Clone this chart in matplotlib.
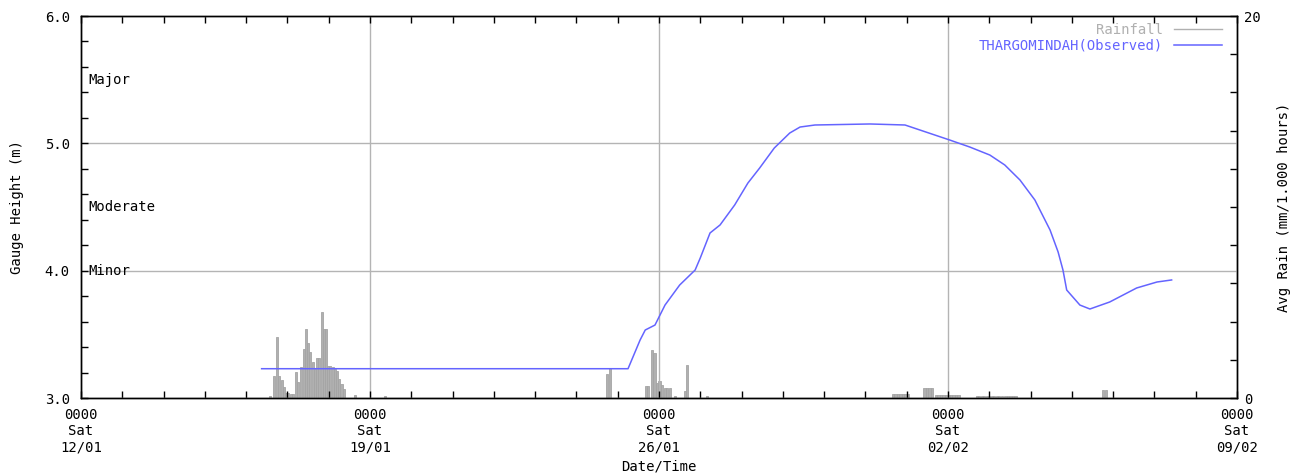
import numpy as np
import pandas as pd
import matplotlib
matplotlib.use('Agg')
import matplotlib.pyplot as plt
import matplotlib.dates as mdates
import matplotlib.transforms as mtransforms

plt.rcParams['font.family'] = 'DejaVu Sans Mono'
plt.rcParams['font.size'] = 10

start = pd.Timestamp('2019-01-12 00:00')
end = pd.Timestamp('2019-02-09 00:00')

# gauge height (m)
gauge_times = ['2019-01-16 09:00', '2019-01-25 06:00', '2019-01-25 13:00', '2019-01-25 16:00',
               '2019-01-25 21:40', '2019-01-26 03:30', '2019-01-26 12:00', '2019-01-26 21:00',
               '2019-01-27 00:00', '2019-01-27 05:40', '2019-01-27 11:30', '2019-01-27 20:00',
               '2019-01-28 03:40', '2019-01-28 10:30', '2019-01-28 19:00', '2019-01-29 04:00',
               '2019-01-29 10:00', '2019-01-29 18:40', '2019-01-31 02:40', '2019-01-31 23:00',
               '2019-02-02 01:00', '2019-02-02 12:40', '2019-02-03 00:20', '2019-02-03 09:00',
               '2019-02-03 17:50', '2019-02-04 02:30', '2019-02-04 11:20', '2019-02-04 16:00',
               '2019-02-04 18:50', '2019-02-04 21:00', '2019-02-05 04:40', '2019-02-05 10:30',
               '2019-02-05 22:00', '2019-02-06 13:40', '2019-02-07 01:30', '2019-02-07 10:00']
gauge_height = [3.23, 3.23, 3.455, 3.534,
                3.573, 3.730, 3.887, 4.005,
                4.10, 4.296, 4.359, 4.516,
                4.688, 4.806, 4.963, 5.081,
                5.128, 5.144, 5.152, 5.144,
                5.026, 4.971, 4.908, 4.830,
                4.712, 4.555, 4.319, 4.147,
                4.005, 3.848, 3.730, 3.699,
                3.754, 3.864, 3.911, 3.927]

# rainfall bars: hours after 12/01 0000, and mm
rain_hours = [110.0, 112.0, 113.9, 115.3, 116.7, 117.8, 119.2, 120.5, 121.9, 123.2,
              124.8, 126.1, 127.7, 129.6, 130.8, 132.1, 133.3, 134.7, 136.2, 137.4,
              138.5, 139.9, 141.1, 142.4, 143.8, 144.9, 146.3, 147.6, 148.8, 150.2,
              151.5, 152.7, 159.1, 176.9,
              305.8, 307.7, 328.4, 329.8, 332.1, 333.4, 334.8, 336.3, 337.7, 339.3,
              340.7, 342.2, 345.1, 351.2, 352.3, 363.7,
              472.0, 473.5, 474.9, 476.4, 477.8, 479.3, 480.7,
              490.3, 491.8, 493.2, 494.7,
              497.0, 498.5, 499.9, 501.4, 502.8, 504.3, 505.7, 507.2, 508.6, 510.1,
              520.7, 522.1, 523.6, 525.0, 526.5, 527.9, 529.4, 530.8, 532.3, 533.7, 535.2,
              537.4, 538.8, 540.3, 541.7, 543.2,
              594.3, 595.7]
rain_mm = [0.1, 1.15, 3.2, 1.15, 0.95, 0.6, 0.25, 0.25, 0.2, 0.2,
           1.35, 0.85, 1.6, 2.55, 3.6, 2.9, 2.4, 1.9, 1.5, 2.1,
           2.1, 4.5, 3.6, 3.6, 1.7, 1.7, 1.6, 1.5, 1.4, 1.0,
           0.75, 0.45, 0.15, 0.08,
           1.25, 1.55, 0.65, 0.65, 2.5, 2.35, 0.8, 0.9, 0.7, 0.5,
           0.5, 0.5, 0.1, 0.38, 1.75, 0.1,
           0.2, 0.2, 0.2, 0.2, 0.2, 0.2, 0.2,
           0.5, 0.5, 0.5, 0.5,
           0.16, 0.16, 0.16, 0.16, 0.16, 0.16, 0.16, 0.16, 0.16, 0.16,
           0.08, 0.08, 0.08, 0.08, 0.08, 0.08, 0.08, 0.08, 0.08, 0.08, 0.08,
           0.08, 0.08, 0.08, 0.08, 0.08,
           0.4, 0.4]

levels = ['Major', 'Moderate', 'Minor']
level_heights = [5.5, 4.5, 4.0]

blue = '#6464ff'
grey = '#b0b0b0'

gx = mdates.date2num(pd.to_datetime(gauge_times))
rx = mdates.date2num(start + pd.to_timedelta(rain_hours, unit='h'))

fig = plt.figure(figsize=(13.06, 4.75), dpi=100)
ax = fig.add_axes([81 / 1306, 77 / 475, 1156 / 1306, 382 / 475])
ax2 = ax.twinx()

ax2.bar(rx, rain_mm, width=1.3 / 24, color='#b0b0b0', edgecolor='#a4a4a4', linewidth=0.6)
ax2.set_ylim(0, 20)
ax2.set_yticks([0, 20])
ax2.set_yticks(np.arange(0, 21, 2), minor=True)
ax2.set_ylabel('Avg Rain (mm/1.000 hours)')
ax2.yaxis.set_label_coords(1.035, 0.5)

ax.set_zorder(ax2.get_zorder() + 1)
ax.patch.set_visible(False)

ax.plot(gx, gauge_height, color=blue, lw=1.1, label='THARGOMINDAH(Observed)')
ax.plot([], [], color=grey, lw=1, label='Rainfall')  # legend entry only

ax.set_ylim(3.0, 6.0)
ax.set_xlim(mdates.date2num(start), mdates.date2num(end))
ax.set_yticks([3.0, 4.0, 5.0, 6.0])
ax.set_yticks(np.arange(3.0, 6.01, 0.2), minor=True)
ax.yaxis.set_major_formatter(matplotlib.ticker.FormatStrFormatter('%.1f'))

weeks = pd.date_range(start, end, freq='7D')
days = pd.date_range(start, end, freq='D')
ax.set_xticks(mdates.date2num(weeks))
ax.set_xticks(mdates.date2num(days), minor=True)
ax.set_xticklabels([d.strftime('%H%M\n%a\n%d/%m') for d in weeks])
ax.grid(True, which='major', color='#b4b4b4', lw=1)

for a in (ax, ax2):
    a.tick_params(which='both', direction='in', length=5, width=1, colors='black')
    for s in a.spines.values():
        s.set_linewidth(1)
ax.tick_params(which='both', top=True)
ax.tick_params(axis='y', which='both', pad=8)
ax.tick_params(axis='x', which='both', pad=7)
ax2.tick_params(axis='y', which='both', pad=5)

trans = mtransforms.blended_transform_factory(ax.transAxes, ax.transData)
for name, h in zip(levels, level_heights):
    ax.text(0.006, h, name, transform=trans, ha='left', va='center', color='black')

ax.set_ylabel('Gauge Height (m)')
ax.yaxis.set_label_coords(-0.049, 0.5)
ax.set_xlabel('Date/Time', labelpad=4)

handles, labels = ax.get_legend_handles_labels()
order = [1, 0]
leg = ax.legend([handles[i] for i in order], [labels[i] for i in order],
                loc='upper right', bbox_to_anchor=(1 - 7 / 1156, 1 + 1 / 382),
                markerfirst=False, frameon=False,
                handlelength=3.4, borderaxespad=0.2, labelspacing=0.1,
                labelcolor=[grey, blue])

fig.savefig('out.png', dpi=100)
